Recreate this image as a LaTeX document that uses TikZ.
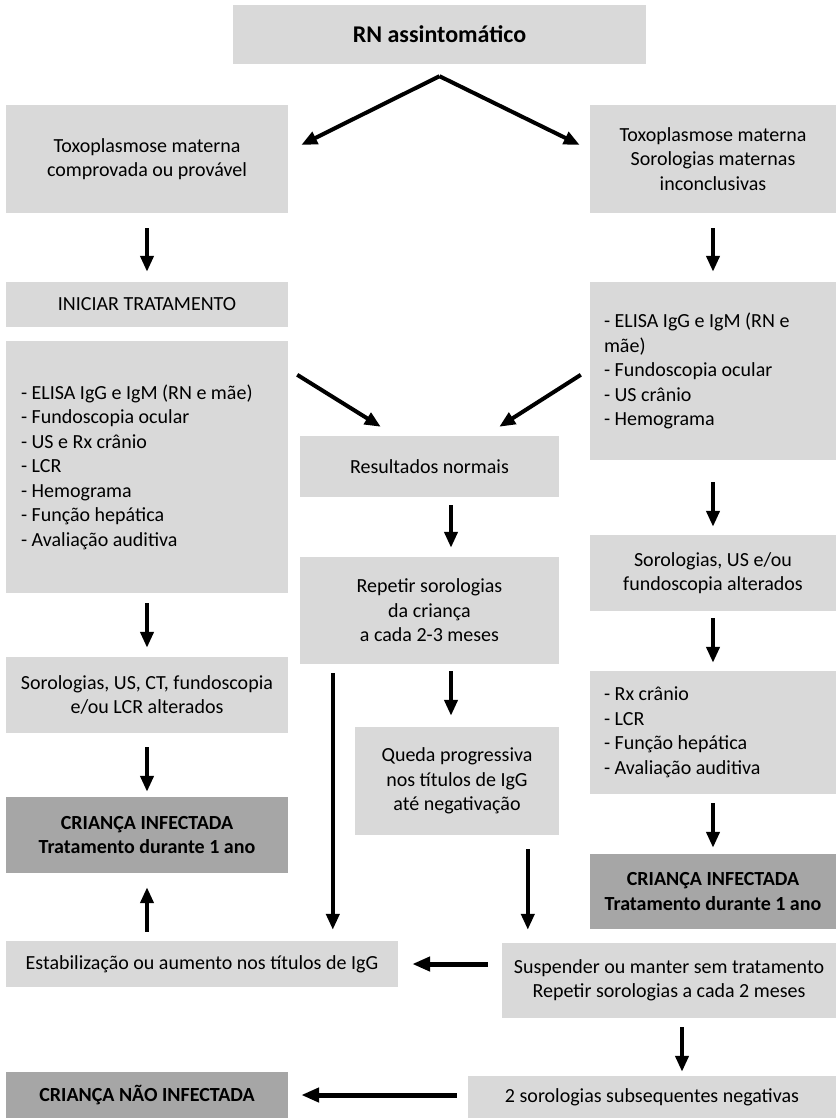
\documentclass[tikz,border=0pt]{standalone}
\usepackage{fontspec}
\setmainfont{Carlito}
\usetikzlibrary{arrows.meta,calc}
\definecolor{boxlight}{RGB}{217,217,217}
\definecolor{boxdark}{RGB}{166,166,166}
\begin{document}
\begin{tikzpicture}[x=1pt,y=-1pt,
  box/.style={fill=boxlight,draw=none,inner sep=0pt,align=center,
    font=\fontsize{20}{24.5}\selectfont},
  darkbox/.style={box,fill=boxdark,font=\fontsize{20}{24.5}\selectfont\bfseries},
  listbox/.style={fill=boxlight,draw=none,inner ysep=0pt,align=flush left,
    font=\fontsize{20}{24.5}\selectfont},
  arr/.style={line width=4pt,-{Triangle[width=13pt,length=16pt]}},
  harr/.style={line width=5pt,-{Triangle[width=14pt,length=18pt]}}]
\useasboundingbox (0,0) rectangle (836,1118);

% boxes, placed by their centres
\node[box,minimum width=413pt,minimum height=59pt,
  font=\fontsize{24}{28}\selectfont\bfseries] (top) at (439.5,34.5) {RN assintomático};
\node[box,minimum width=282pt,minimum height=108pt] (tl) at (147,159)
  {Toxoplasmose materna\\comprovada ou provável};
\node[box,minimum width=246pt,minimum height=108pt] (tr) at (713,159)
  {Toxoplasmose materna\\Sorologias maternas\\inconclusivas};
\node[box,minimum width=282pt,minimum height=45pt] (init) at (147,304.5)
  {INICIAR TRATAMENTO};
\node[listbox,inner xsep=15pt,text width=252pt,minimum height=252pt] (ll) at (147,467)
  {- ELISA IgG e IgM (RN e mãe)\\- Fundoscopia ocular\\- US e Rx crânio\\- LCR\\- Hemograma\\- Função hepática\\- Avaliação auditiva};
\node[listbox,inner xsep=14pt,text width=218pt,minimum height=178pt] (rl) at (713,371)
  {- ELISA IgG e IgM (RN e\\mãe)\\- Fundoscopia ocular\\- US crânio\\- Hemograma};
\node[box,minimum width=259pt,minimum height=61pt] (res) at (429.5,466.5)
  {Resultados normais};
\node[box,minimum width=259pt,minimum height=107pt] (rep) at (429.5,610.5)
  {Repetir sorologias\\da criança\\a cada 2-3 meses};
\node[box,minimum width=246pt,minimum height=76pt] (rsor) at (713,573)
  {Sorologias, US e/ou\\fundoscopia alterados};
\node[box,minimum width=282pt,minimum height=76pt] (lsor) at (147,695)
  {Sorologias, US, CT, fundoscopia\\e/ou LCR alterados};
\node[darkbox,minimum width=282pt,minimum height=76pt] (linf) at (147,835)
  {CRIANÇA INFECTADA\\Tratamento durante 1 ano};
\node[box,minimum width=204pt,minimum height=108pt] (queda) at (457,781)
  {Queda progressiva\\nos títulos de IgG\\até negativação};
\node[listbox,inner xsep=14pt,text width=218pt,minimum height=123pt] (rl2) at (713,732.5)
  {- Rx crânio\\- LCR\\- Função hepática\\- Avaliação auditiva};
\node[darkbox,minimum width=246pt,minimum height=75pt] (rinf) at (713,891.5)
  {CRIANÇA INFECTADA\\Tratamento durante 1 ano};
\node[box,minimum width=392pt,minimum height=46pt] (est) at (202,964)
  {Estabilização ou aumento nos títulos de IgG};
\node[box,minimum width=334pt,minimum height=75pt] (susp) at (669,980.5)
  {Suspender ou manter sem tratamento\\Repetir sorologias a cada 2 meses};
\node[box,minimum width=368pt,minimum height=42pt] (neg) at (652,1097)
  {2 sorologias subsequentes negativas};
\node[darkbox,minimum width=282pt,minimum height=46pt] (nao) at (147,1095)
  {CRIANÇA NÃO INFECTADA};

% diverging arrows below the top box
\draw[arr] ($(top.south)+(0,12)$) -- ($(tl.east)+(13,-14)$);
\draw[arr] ($(top.south)+(0,12)$) -- ($(tr.west)+(-10,-14)$);

% left column
\draw[arr,shorten <=15pt,shorten >=10pt] (tl.south) -- (init.north);
\draw[arr,shorten <=10pt,shorten >=9pt] (ll.south) -- (lsor.north);
\draw[arr,shorten <=14pt,shorten >=5pt] (lsor.south) -- (linf.north);
\draw[arr,shorten <=9pt,shorten >=14pt] (linf.south |- est.north) -- (linf.south);

% right column
\draw[arr,shorten <=15pt,shorten >=10pt] (tr.south) -- (rl.north);
\draw[arr,shorten <=22pt,shorten >=8pt] (rl.south) -- (rsor.north);
\draw[arr,shorten <=7pt,shorten >=8pt] (rsor.south) -- (rl2.north);
\draw[arr,shorten <=9pt,shorten >=6pt] (rl2.south) -- (rinf.north);

% both lists lead to normal results
\draw[arr] ($(ll.north east)+(9,34)$) -- ($(res.north west)+(81,-9)$);
\draw[arr] ($(rl.north west)+(-9,93)$) -- ($(res.north east)+(-60,-9)$);

% middle column
\draw[arr] ($(res.south)+(21.5,8)$) -- ($(rep.north)+(21.5,-9)$);
\draw[arr] ($(rep.south)+(21.5,7)$) -- ($(queda.north)+(-6,-11)$);
\coordinate (repdrop) at ($(rep.south west)+(33,9)$);
\draw[arr] (repdrop) -- ($(repdrop |- est.north)+(0,-11)$);
\coordinate (quedadrop) at ($(queda.south west)+(173,14)$);
\draw[arr] (quedadrop) -- ($(quedadrop |- susp.north)+(0,-13)$);

% bottom row
\draw[harr,shorten <=14pt,shorten >=14pt] (susp.west |- est.east) -- (est.east);
\draw[arr] ($(susp.south)+(13,9)$) -- ($(susp.south |- neg.north)+(13,-4)$);
\draw[harr,shorten <=11pt,shorten >=13pt] (neg.west |- nao.east) -- (nao.east);
\end{tikzpicture}
\end{document}
